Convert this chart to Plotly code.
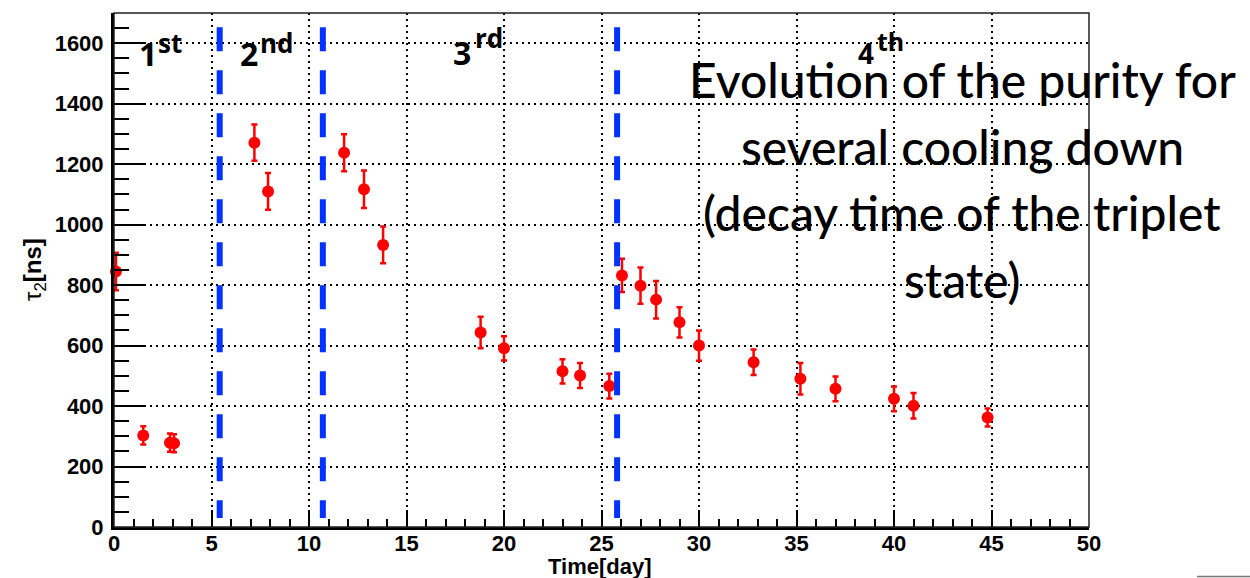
import plotly.graph_objects as go

# ---- data ----
time_day = [0.1, 1.5, 2.87, 3.08, 7.2, 7.9, 11.8, 12.82, 13.8, 18.8, 20.0, 23.0, 23.9, 25.4,
            26.05, 27.0, 27.8, 29.0, 30.0, 32.8, 35.2, 37.0, 40.0, 41.0, 44.8]
tau2_ns = [845, 303, 279, 277, 1271, 1110, 1238, 1117, 933, 643, 591, 515, 501, 466,
           832, 798, 752, 677, 600, 545, 490, 457, 424, 401, 362]
tau2_err = [62, 30, 30, 30, 60, 61, 61, 62, 61, 52, 40, 40, 41, 41,
            55, 60, 62, 50, 50, 42, 52, 41, 41, 42, 30]

cooldown_sep_x = [5.42, 10.71, 25.80]
sep_y = [1653, 30]

period_main = ["1", "2", "3", "4"]
period_suffix = ["st", "nd", "rd", "th"]

overlay_lines = ["Evolution of the purity for", "several cooling down",
                 "(decay time of the triplet", "state)"]

x_ticks = [0, 5, 10, 15, 20, 25, 30, 35, 40, 45, 50]
y_ticks = [0, 200, 400, 600, 800, 1000, 1200, 1400, 1600]

W, H = 1250, 578
L, R, T, B = 114, 1089, 13, 527

fig = go.Figure()
fig.add_trace(go.Scatter(
    x=time_day, y=tau2_ns, mode="markers",
    marker=dict(color="#ff0000", size=12),
    error_y=dict(type="data", array=tau2_err, color="#ff0000", thickness=2.5, width=3),
    cliponaxis=False, showlegend=False))

shapes = []
for xs in cooldown_sep_x:
    shapes.append(dict(type="line", xref="x", yref="y", x0=xs, x1=xs, y0=sep_y[0], y1=sep_y[1],
                       line=dict(color="#0033ff", width=6, dash="24px,19px"), layer="above"))
# thin frame top/right
shapes.append(dict(type="rect", xref="paper", yref="paper", x0=0, x1=1, y0=0, y1=1,
                   line=dict(color="#222222", width=1.5), layer="above"))
# small gray artifact bottom right
shapes.append(dict(type="line", xref="paper", yref="paper",
                   x0=(1197 - L) / (R - L), x1=(1250 - L) / (R - L),
                   y0=(B - 576.5) / (B - T), y1=(B - 576.5) / (B - T),
                   line=dict(color="#777777", width=1.5)))


def px_x(p):
    return (p - L) / (R - L)


def px_y(p):
    return (B - p) / (B - T)


annotations = []
# period labels: (anchor-left px, baseline px, size) for the numeral and for the suffix
main_pos = [(137, 65, 32), (238, 65, 32), (451, 63.3, 32), (856, 63, 28)]
suf_pos = [(156, 51.7, 26), (258, 51.7, 26), (473, 46.7, 26), (875, 50, 25)]
for txt, (xp, bl, s) in zip(period_main, main_pos):
    annotations.append(dict(text=txt, x=px_x(xp), y=px_y(bl - 0.35 * s), xref="paper", yref="paper",
                            xanchor="left", yanchor="middle", showarrow=False,
                            font=dict(family="Open Sans", size=s, color="black", weight="bold")))
for txt, (xp, bl, s) in zip(period_suffix, suf_pos):
    annotations.append(dict(text=txt, x=px_x(xp), y=px_y(bl - 0.35 * s), xref="paper", yref="paper",
                            xanchor="left", yanchor="middle", showarrow=False,
                            font=dict(family="Open Sans", size=s, color="black", weight="bold")))
# overlay text lines
baselines = [96.7, 163.4, 230, 296.7]
for line, bl in zip(overlay_lines, baselines):
    annotations.append(dict(text=line, x=px_x(962), y=px_y(bl - 17), xref="paper", yref="paper",
                            xanchor="center", yanchor="middle", showarrow=False,
                            font=dict(family="Lato", size=48, color="black", weight=500)))
# axis titles
annotations.append(dict(text="Time[day]", x=px_x(600), y=px_y(566), xref="paper", yref="paper",
                        xanchor="center", yanchor="middle", showarrow=False,
                        font=dict(family="Liberation Sans", size=22, color="black", weight="bold")))
annotations.append(dict(text="τ<sub>2</sub><b>[ns]</b>", x=px_x(34), y=px_y(270), xref="paper", yref="paper",
                        xanchor="center", yanchor="middle", showarrow=False, textangle=-90,
                        font=dict(family="Liberation Sans", size=24, color="black")))

fig.update_layout(
    width=W, height=H,
    margin=dict(l=L, r=W - R, t=T, b=H - B),
    paper_bgcolor="white", plot_bgcolor="white",
    shapes=shapes, annotations=annotations,
    xaxis=dict(range=[0, 50], tickvals=x_ticks, ticks="inside", ticklen=17, tickwidth=2,
               tickcolor="black", showline=True, linewidth=3, linecolor="black",
               showgrid=True, gridcolor="black", griddash="2px,4px", gridwidth=2,
               zeroline=False, ticklabelstandoff=-5,
               tickfont=dict(family="Liberation Sans", size=22, color="black", weight="bold"),
               minor=dict(dtick=1, tick0=0, ticks="inside", ticklen=8, tickwidth=2,
                          tickcolor="black", showgrid=False)),
    yaxis=dict(range=[0, 1700], tickvals=y_ticks, ticks="inside", ticklen=31, tickwidth=2,
               tickcolor="black", showline=True, linewidth=3, linecolor="black",
               showgrid=True, gridcolor="black", griddash="2px,4px", gridwidth=2,
               zeroline=False, ticklabelstandoff=3,
               tickfont=dict(family="Liberation Sans", size=22, color="black", weight="bold"),
               minor=dict(dtick=50, tick0=0, ticks="inside", ticklen=15, tickwidth=2,
                          tickcolor="black", showgrid=False)),
)

fig.write_html("out.html")
